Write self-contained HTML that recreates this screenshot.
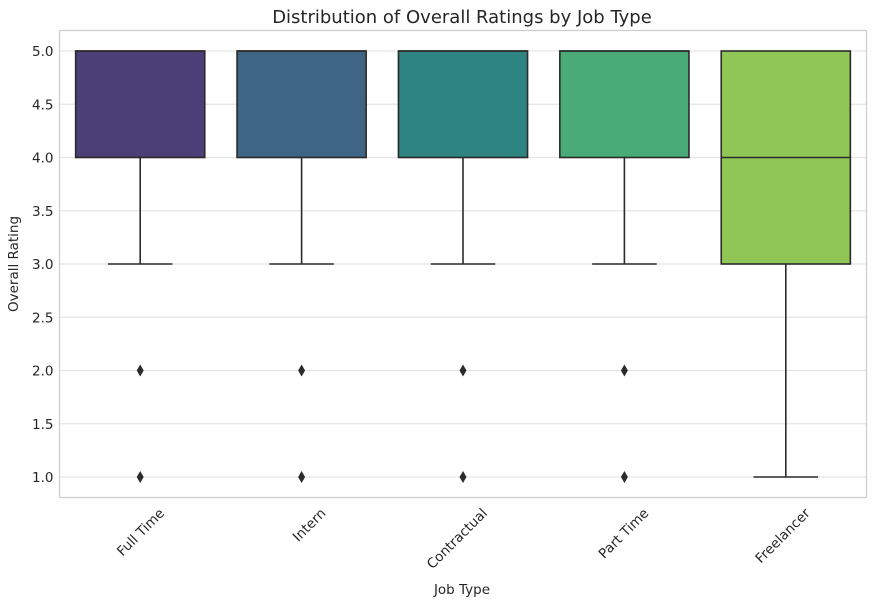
<!DOCTYPE html>
<html><head><meta charset="utf-8"><style>
body{margin:0;background:#fff;}
svg text{font-family:"DejaVu Sans","Liberation Sans",sans-serif;fill:#262626;}
</style></head><body>
<svg id="chart" width="875" height="604" xmlns="http://www.w3.org/2000/svg">
<text x="462" y="23" font-size="18" text-anchor="middle">Distribution of Overall Ratings by Job Type</text>
<text x="18" y="264" font-size="13.5" text-anchor="middle" transform="rotate(-90 18 264)">Overall Rating</text>
<text x="462" y="594" font-size="13.5" text-anchor="middle">Job Type</text>
<g id="grid"></g><g id="marks"></g>
<rect x="59.5" y="30.5" width="807" height="467" fill="none" stroke="#cccccc" stroke-width="1.2"/>
</svg>
<script>
const categories=["Full Time","Intern","Contractual","Part Time","Freelancer"];
const q1=[4,4,4,4,3];
const median=[5,5,5,5,4];
const q3=[5,5,5,5,5];
const whiskLow=[3,3,3,3,1];
const whiskHigh=[5,5,5,5,5];
const outliers=[[2,1],[2,1],[2,1],[2,1],[]];
const colors=["#4b3f77","#3e6583","#2e8480","#48ab78","#90c656"];
const yTicks=[1.0,1.5,2.0,2.5,3.0,3.5,4.0,4.5,5.0];
const NS="http://www.w3.org/2000/svg";
const L=59.5,R=866.5,T=30.5,B=497.5;
const y=v=>477-(v-1)*106.5;
const x=i=>L+(i+0.5)*(R-L)/categories.length;
const bw=(R-L)/categories.length*0.8;
function mk(tag,a,parent){const e=document.createElementNS(NS,tag);for(const k in a)e.setAttribute(k,a[k]);parent.appendChild(e);return e;}
const grid=document.getElementById('grid'),marks=document.getElementById('marks'),svg=document.getElementById('chart');
yTicks.forEach(t=>{
 const g=mk('line',{x1:L,x2:R,y1:y(t),y2:y(t),stroke:'#e5e5e5','stroke-width':1.2},grid);
 
 
 const tx=mk('text',{x:L-6,y:y(t)+5,'font-size':13.5,'text-anchor':'end'},svg);
 tx.textContent=t.toFixed(1);
 
 
});
categories.forEach((c,i)=>{
 const cx=x(i),col='#2b2b2b';
 const wl=mk('line',{x1:cx,x2:cx,y1:y(q1[i]),y2:y(whiskLow[i]),stroke:col,'stroke-width':1.6},marks);
 
 
 const cap=mk('line',{x1:cx-bw/4,x2:cx+bw/4,y1:y(whiskLow[i]),y2:y(whiskLow[i]),stroke:col,'stroke-width':1.6},marks);
 
 
 const r=mk('rect',{x:cx-bw/2,y:y(q3[i]),width:bw,height:y(q1[i])-y(q3[i]),fill:colors[i],stroke:col,'stroke-width':1.6},marks);
 
 
 const m=mk('line',{x1:cx-bw/2,x2:cx+bw/2,y1:y(median[i]),y2:y(median[i]),stroke:col,'stroke-width':1.6},marks);
 
 
 outliers[i].forEach(o=>{
  const oy=y(o);
  const d=mk('polygon',{points:`${cx},${oy-6} ${cx+3.5},${oy} ${cx},${oy+6} ${cx-3.5},${oy}`,fill:'#2b2b2b'},marks);
  
  
 });
 const tx=mk('text',{x:cx+25,y:514,'font-size':13.5,'text-anchor':'end',transform:`rotate(-45 ${cx+25} 514)`},svg);
 tx.textContent=c;
 
 
});
</script>
</body></html>
